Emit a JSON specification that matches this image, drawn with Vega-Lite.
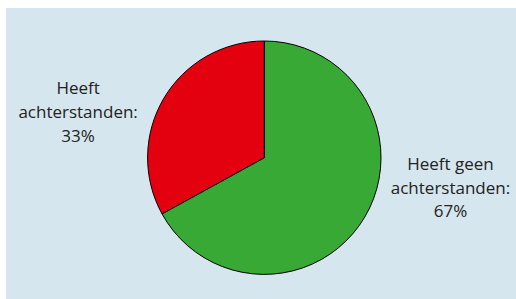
{
  "$schema": "https://vega.github.io/schema/vega-lite/v6.json",
  "width": 516,
  "height": 299,
  "autosize": {"type": "fit", "contains": "padding"},
  "padding": {"left": 6, "top": 8, "right": 0, "bottom": 0},
  "background": "white",
  "view": {"fill": "#d6e6ee", "stroke": null},
  "data": {
    "values": [
      {"categorie": "Heeft geen achterstanden", "label": "Heeft geen\nachterstanden:\n67%", "percentage": 67, "volgorde": 1},
      {"categorie": "Heeft achterstanden", "label": "Heeft\nachterstanden:\n33%", "percentage": 33, "volgorde": 2}
    ]
  },
  "encoding": {
    "theta": {"field": "percentage", "type": "quantitative", "stack": true},
    "order": {"field": "volgorde", "type": "quantitative"}
  },
  "layer": [
    {
      "mark": {"type": "arc", "outerRadius": 116.7, "stroke": "black", "strokeWidth": 1, "x": 258.3, "y": 149.7},
      "encoding": {
        "color": {
          "field": "categorie",
          "type": "nominal",
          "scale": {"domain": ["Heeft geen achterstanden", "Heeft achterstanden"], "range": ["#39a935", "#e3000f"]},
          "legend": null
        }
      }
    },
    {
      "mark": {"type": "text", "radius": 190, "thetaOffset": -0.3334, "x": 258.3, "y": 149.7, "yOffset": -30.7, "font": "Open Sans", "fontSize": 17, "lineBreak": "\n", "lineHeight": 23.7, "color": "#222222", "align": "center", "baseline": "middle"},
      "encoding": {"text": {"field": "label", "type": "nominal"}}
    }
  ]
}
